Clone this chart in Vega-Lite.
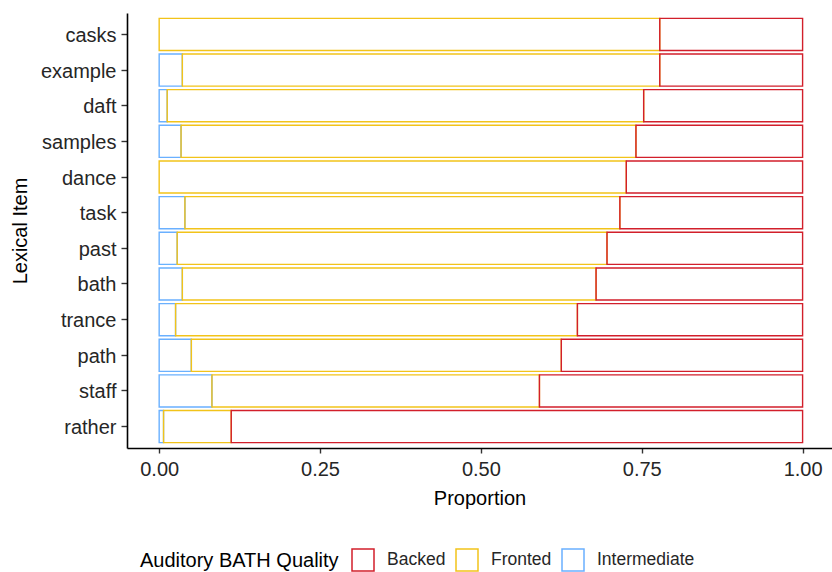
{
  "$schema": "https://vega.github.io/schema/vega-lite/v6.json",
  "autosize": {"type": "none"},
  "padding": {"left": 127, "top": 13, "right": 0, "bottom": 124},
  "width": 705,
  "height": 435,
  "background": "white",
  "data": {
    "values": [
      {"item": "example", "quality": "Intermediate", "proportion": 0.036},
      {"item": "daft", "quality": "Intermediate", "proportion": 0.0125},
      {"item": "samples", "quality": "Intermediate", "proportion": 0.034},
      {"item": "task", "quality": "Intermediate", "proportion": 0.040},
      {"item": "past", "quality": "Intermediate", "proportion": 0.028},
      {"item": "bath", "quality": "Intermediate", "proportion": 0.036},
      {"item": "trance", "quality": "Intermediate", "proportion": 0.0255},
      {"item": "path", "quality": "Intermediate", "proportion": 0.050},
      {"item": "staff", "quality": "Intermediate", "proportion": 0.082},
      {"item": "rather", "quality": "Intermediate", "proportion": 0.0068},
      {"item": "casks", "quality": "Fronted", "proportion": 0.778},
      {"item": "example", "quality": "Fronted", "proportion": 0.742},
      {"item": "daft", "quality": "Fronted", "proportion": 0.7405},
      {"item": "samples", "quality": "Fronted", "proportion": 0.707},
      {"item": "dance", "quality": "Fronted", "proportion": 0.726},
      {"item": "task", "quality": "Fronted", "proportion": 0.676},
      {"item": "past", "quality": "Fronted", "proportion": 0.668},
      {"item": "bath", "quality": "Fronted", "proportion": 0.643},
      {"item": "trance", "quality": "Fronted", "proportion": 0.6245},
      {"item": "path", "quality": "Fronted", "proportion": 0.575},
      {"item": "staff", "quality": "Fronted", "proportion": 0.509},
      {"item": "rather", "quality": "Fronted", "proportion": 0.1052},
      {"item": "casks", "quality": "Backed", "proportion": 0.222},
      {"item": "example", "quality": "Backed", "proportion": 0.222},
      {"item": "daft", "quality": "Backed", "proportion": 0.247},
      {"item": "samples", "quality": "Backed", "proportion": 0.259},
      {"item": "dance", "quality": "Backed", "proportion": 0.274},
      {"item": "task", "quality": "Backed", "proportion": 0.284},
      {"item": "past", "quality": "Backed", "proportion": 0.304},
      {"item": "bath", "quality": "Backed", "proportion": 0.321},
      {"item": "trance", "quality": "Backed", "proportion": 0.350},
      {"item": "path", "quality": "Backed", "proportion": 0.375},
      {"item": "staff", "quality": "Backed", "proportion": 0.409},
      {"item": "rather", "quality": "Backed", "proportion": 0.888}
    ]
  },
  "mark": {"type": "bar", "filled": false, "strokeWidth": 1.4, "strokeJoin": "miter"},
  "encoding": {
    "y": {
      "field": "item",
      "type": "nominal",
      "sort": ["casks", "example", "daft", "samples", "dance", "task", "past", "bath", "trance", "path", "staff", "rather"],
      "scale": {"paddingInner": 0.1, "paddingOuter": 0.15},
      "axis": {
        "title": "Lexical Item",
        "titleX": -101,
        "titleY": 217.5,
        "titleAngle": 270,
        "titleBaseline": "alphabetic",
        "titleAlign": "center",
        "labelPadding": 5,
        "labelOffset": 1.5,
        "tickSize": 6
      }
    },
    "x": {
      "field": "proportion",
      "type": "quantitative",
      "stack": "zero",
      "scale": {"domain": [-0.05, 1.0457], "nice": false, "zero": false},
      "axis": {
        "title": "Proportion",
        "values": [0, 0.25, 0.5, 0.75, 1],
        "format": ".2f",
        "titleX": 352.5,
        "titleY": 56,
        "titleBaseline": "alphabetic",
        "titleAlign": "center",
        "labelBaseline": "alphabetic",
        "labelPadding": 22,
        "tickSize": 5,
        "labelFlush": false
      }
    },
    "color": {
      "field": "quality",
      "type": "nominal",
      "scale": {"domain": ["Backed", "Fronted", "Intermediate"], "range": ["#D21F2B", "#F2C31A", "#6AB0FF"]},
      "legend": {
        "title": "Auditory BATH Quality",
        "orient": "none",
        "legendX": 13,
        "legendY": 535,
        "direction": "horizontal",
        "titleOrient": "left",
        "titleBaseline": "middle",
        "titleAnchor": "middle",
        "titleLimit": 400,
        "symbolType": "square",
        "symbolSize": 484,
        "symbolStrokeWidth": 1.5,
        "symbolFillColor": "white",
        "labelOffset": 12,
        "columnPadding": 7,
        "titlePadding": 12
      }
    },
    "order": {"field": "quality", "sort": "descending"}
  },
  "config": {
    "view": {"stroke": null},
    "font": "Liberation Sans",
    "axis": {
      "grid": false,
      "domainColor": "#000000",
      "domainWidth": 1.6,
      "tickColor": "#333333",
      "tickWidth": 1.4,
      "labelFont": "Liberation Sans",
      "labelFontSize": 20,
      "labelColor": "#262626",
      "titleFont": "Liberation Sans",
      "titleFontSize": 20,
      "titleFontWeight": "normal",
      "titleColor": "#000000"
    },
    "legend": {
      "labelFont": "Liberation Sans",
      "labelFontSize": 17.5,
      "labelColor": "#262626",
      "titleFont": "Liberation Sans",
      "titleFontSize": 20,
      "titleFontWeight": "normal",
      "titleColor": "#000000"
    }
  }
}
